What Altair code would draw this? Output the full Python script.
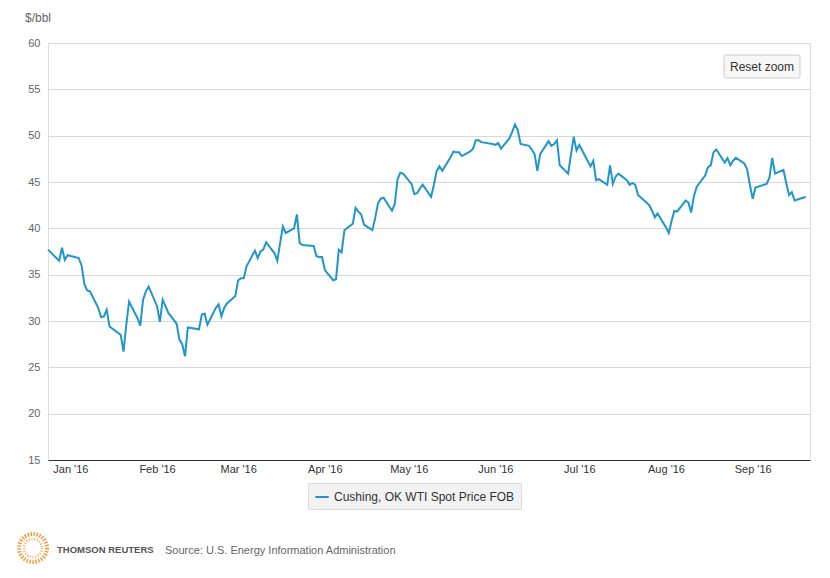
import altair as alt
import pandas as pd

FONT = "Liberation Sans, Arial, sans-serif"
SERIES = "Cushing, OK WTI Spot Price FOB"
LINE_COLOR = "#2196cc"

DATES = [
    "2015-12-24", "2015-12-28", "2015-12-29", "2015-12-30", "2015-12-31",
    "2016-01-04", "2016-01-05", "2016-01-06", "2016-01-07", "2016-01-08", "2016-01-11", "2016-01-12",
    "2016-01-13", "2016-01-14", "2016-01-15", "2016-01-19", "2016-01-20", "2016-01-21", "2016-01-22",
    "2016-01-25", "2016-01-26", "2016-01-27", "2016-01-28", "2016-01-29",
    "2016-02-01", "2016-02-02", "2016-02-03", "2016-02-04", "2016-02-05", "2016-02-08", "2016-02-09",
    "2016-02-10", "2016-02-11", "2016-02-12", "2016-02-16", "2016-02-17", "2016-02-18", "2016-02-19",
    "2016-02-22", "2016-02-23", "2016-02-24", "2016-02-25", "2016-02-26", "2016-02-29",
    "2016-03-01", "2016-03-02", "2016-03-03", "2016-03-04", "2016-03-07", "2016-03-08", "2016-03-09",
    "2016-03-10", "2016-03-11", "2016-03-14", "2016-03-15", "2016-03-16", "2016-03-17", "2016-03-18",
    "2016-03-21", "2016-03-22", "2016-03-23", "2016-03-24", "2016-03-28", "2016-03-29", "2016-03-30",
    "2016-03-31",
    "2016-04-01", "2016-04-04", "2016-04-05", "2016-04-06", "2016-04-07", "2016-04-08", "2016-04-11",
    "2016-04-12", "2016-04-13", "2016-04-14", "2016-04-15", "2016-04-18", "2016-04-19", "2016-04-20",
    "2016-04-21", "2016-04-22", "2016-04-25", "2016-04-26", "2016-04-27", "2016-04-28", "2016-04-29",
    "2016-05-02", "2016-05-03", "2016-05-04", "2016-05-05", "2016-05-06", "2016-05-09", "2016-05-10",
    "2016-05-11", "2016-05-12", "2016-05-13", "2016-05-16", "2016-05-17", "2016-05-18", "2016-05-19",
    "2016-05-20", "2016-05-23", "2016-05-24", "2016-05-25", "2016-05-26", "2016-05-27", "2016-05-31",
    "2016-06-01", "2016-06-02", "2016-06-03", "2016-06-06", "2016-06-07", "2016-06-08", "2016-06-09",
    "2016-06-10", "2016-06-13", "2016-06-14", "2016-06-15", "2016-06-16", "2016-06-17", "2016-06-20",
    "2016-06-21", "2016-06-22", "2016-06-23", "2016-06-24", "2016-06-27", "2016-06-28", "2016-06-29",
    "2016-06-30",
    "2016-07-01", "2016-07-05", "2016-07-06", "2016-07-07", "2016-07-08", "2016-07-11", "2016-07-12",
    "2016-07-13", "2016-07-14", "2016-07-15", "2016-07-18", "2016-07-19", "2016-07-20", "2016-07-21",
    "2016-07-22", "2016-07-25", "2016-07-26", "2016-07-27", "2016-07-28", "2016-07-29",
    "2016-08-01", "2016-08-02", "2016-08-03", "2016-08-04", "2016-08-05", "2016-08-08", "2016-08-09",
    "2016-08-10", "2016-08-11", "2016-08-12", "2016-08-15", "2016-08-16", "2016-08-17", "2016-08-18",
    "2016-08-19", "2016-08-22", "2016-08-23", "2016-08-24", "2016-08-25", "2016-08-26", "2016-08-29",
    "2016-08-30", "2016-08-31",
    "2016-09-01", "2016-09-02", "2016-09-06", "2016-09-07", "2016-09-08", "2016-09-09", "2016-09-12",
    "2016-09-13", "2016-09-14", "2016-09-15", "2016-09-16", "2016-09-19", "2016-09-20",
]

PRICES = [
    37.7, 36.5, 37.9, 36.6, 37.1,
    36.8, 36.0, 34.0, 33.3, 33.2, 31.4, 30.4, 30.5, 31.2, 29.4, 28.5, 26.7, 29.6, 32.1,
    30.3, 29.5, 32.3, 33.2, 33.7,
    31.6, 29.9, 32.3, 31.6, 30.9, 29.7, 28.0, 27.5, 26.2, 29.3, 29.1, 30.7, 30.8, 29.6,
    31.4, 31.8, 30.5, 31.4, 31.9, 32.7,
    34.4, 34.6, 34.6, 35.9, 37.6, 36.8, 37.5, 37.7, 38.5, 37.3, 36.5, 38.4, 40.2, 39.5,
    40.0, 41.5, 38.4, 38.2, 38.1, 37.0, 36.9, 36.9,
    35.5, 34.4, 34.5, 37.7, 37.4, 39.8, 40.5, 42.2, 41.8, 41.5, 40.4, 39.8, 41.1, 42.7,
    43.2, 43.3, 41.9, 42.6, 45.3, 46.0, 45.9,
    44.8, 43.7, 43.8, 44.3, 44.7, 43.4, 44.7, 46.2, 46.7, 46.2, 47.7, 48.3, 48.2, 48.2,
    47.8, 48.3, 48.6, 49.5, 49.5, 49.3, 49.1,
    49.0, 49.2, 48.6, 49.7, 50.4, 51.2, 50.6, 49.1, 48.9, 48.5, 48.0, 46.2, 48.0, 49.4,
    48.9, 49.1, 49.5, 46.8, 45.9, 47.9, 49.9, 48.4,
    49.0, 46.7, 47.3, 45.2, 45.3, 44.7, 46.8, 44.8, 45.6, 45.9, 45.2, 44.7, 44.9, 44.7,
    43.6, 42.8, 42.5, 41.9, 41.2, 41.6,
    40.1, 39.5, 40.8, 41.9, 41.8, 43.0, 42.8, 41.7, 43.5, 44.5, 45.7, 46.6, 46.8, 48.2,
    48.5, 47.1, 47.6, 46.8, 47.3, 47.6, 47.0, 46.4, 44.7,
    43.2, 44.4, 44.8, 45.5, 47.6, 45.9, 46.3, 44.9, 43.6, 43.9, 43.0, 43.3, 43.4,
]

Y_TICKS = [15, 20, 25, 30, 35, 40, 45, 50, 55, 60]
X_TICK_MONTHS = [1, 2, 3, 4, 5, 6, 7, 8, 9]
UNIT_LABEL = ["$/bbl"]
BUTTON_LABEL = ["Reset zoom"]
BRAND_LABEL = ["THOMSON REUTERS"]
SOURCE_LABEL = ["Source: U.S. Energy Information Administration"]

df = pd.DataFrame({"date": DATES, "price": PRICES, "series": SERIES})

x_axis = alt.Axis(
    values=[alt.DateTime(year=2016, month=m, date=1, utc=True) for m in X_TICK_MONTHS],
    labelExpr="utcFormat(datum.value, \"%b '%y\")",
    grid=False, domainColor="#333333", domainWidth=1, ticks=False,
    labelPadding=3, labelFontSize=11, labelColor="#333333", title=None,
)
y_axis = alt.Axis(
    values=Y_TICKS, grid=True, gridColor="#d8d8d8", domain=False, ticks=False,
    labelPadding=8, labelFontSize=11, labelColor="#666666", title=None,
)

line = alt.Chart(df).mark_line(strokeWidth=2).encode(
    x=alt.X("date:T", axis=x_axis,
            scale=alt.Scale(type="utc", domain=[
                alt.DateTime(year=2015, month=12, date=24, utc=True),
                alt.DateTime(year=2016, month=9, date=21, hours=12, utc=True)])),
    y=alt.Y("price:Q", axis=y_axis, scale=alt.Scale(domain=[15, 60], nice=False, zero=False)),
    color=alt.Color("series:N", scale=alt.Scale(domain=[SERIES], range=[LINE_COLOR]),
                    legend=alt.Legend(title=None, orient="none", legendX=260, legendY=440,
                                      direction="horizontal", fillColor="#f2f2f2",
                                      strokeColor="#dddddd", padding=6, symbolType="stroke",
                                      symbolStrokeWidth=2, symbolSize=180, labelLimit=400,
                                      labelFontSize=12, labelColor="#333333")),
)

one = pd.DataFrame({"k": [0]})

unit = alt.Chart(pd.DataFrame({"t": UNIT_LABEL})).mark_text(
    align="left", baseline="middle", fontSize=12, color="#666666").encode(
    x=alt.value(-23), y=alt.value(-25), text="t:N")

button_box = alt.Chart(one).mark_rect(
    fill="#f7f7f7", stroke="#cccccc", strokeWidth=1, cornerRadius=2).encode(
    x=alt.value(676), x2=alt.value(752), y=alt.value(12), y2=alt.value(35))

button_text = alt.Chart(pd.DataFrame({"t": BUTTON_LABEL})).mark_text(
    align="center", baseline="middle", fontSize=12, color="#333333").encode(
    x=alt.value(714), y=alt.value(23.5), text="t:N")

logo_outer = alt.Chart(one).mark_point(
    shape="circle", filled=False, stroke="#f0922b", strokeWidth=4,
    strokeDash=[1.5, 1.5], size=784, opacity=0.9).encode(
    x=alt.value(-15), y=alt.value(505))

logo_inner = alt.Chart(one).mark_point(
    shape="circle", filled=False, stroke="#f5b26b", strokeWidth=2.5,
    strokeDash=[1.2, 1.5], size=324, opacity=0.9).encode(
    x=alt.value(-15), y=alt.value(505))

brand = alt.Chart(pd.DataFrame({"t": BRAND_LABEL})).mark_text(
    align="left", baseline="middle", fontSize=9.5, fontWeight="bold", color="#555555").encode(
    x=alt.value(9), y=alt.value(507), text="t:N")

source = alt.Chart(pd.DataFrame({"t": SOURCE_LABEL})).mark_text(
    align="left", baseline="middle", fontSize=11, color="#666666").encode(
    x=alt.value(117), y=alt.value(508), text="t:N")

chart = alt.layer(
    line, unit, button_box, button_text, logo_outer, logo_inner, brand, source
).properties(
    width=762, height=417,
    padding={"left": 48, "top": 43, "right": 20, "bottom": 118},
    autosize=alt.AutoSizeParams(type="none"),
).configure_view(stroke=None).configure_axis(
    labelFont=FONT
).configure_legend(
    labelFont=FONT
).configure_text(font=FONT).configure(background="white")

chart.save("out.html", embed_options={"renderer": "svg", "actions": False})
